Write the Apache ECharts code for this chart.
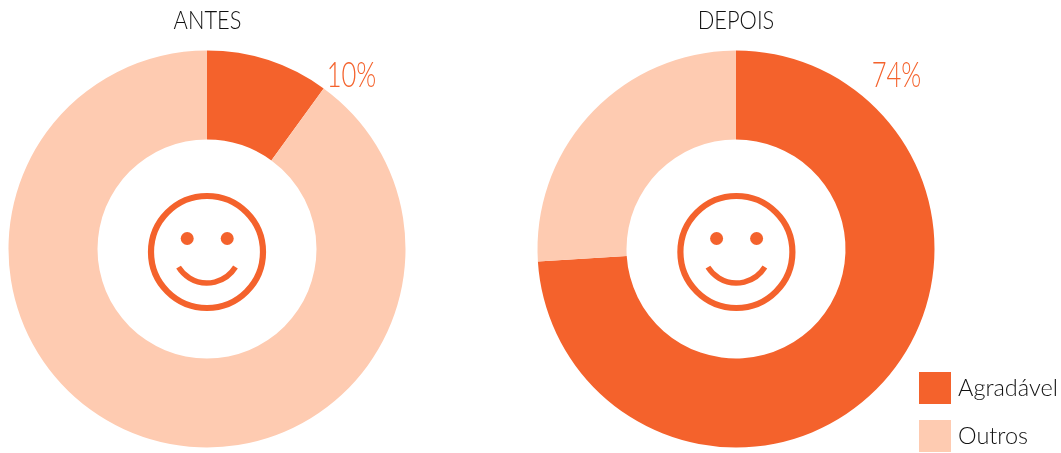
<!DOCTYPE html>
<html><head><meta charset="utf-8">
<style>html,body{margin:0;padding:0;background:#fff}#c{width:1061px;height:453px}</style>
<script src="https://cdn.jsdelivr.net/npm/echarts@6/dist/echarts.min.js"></script>
</head><body><div id="c"></div>
<script>
const categories = ['Agradável', 'Outros'];
const antesValues = [10, 90];
const depoisValues = [74, 26];
const panelTitles = ['ANTES', 'DEPOIS'];
const colors = ['#F4622C', '#FECBB1'];
const FONT = 'Lato';
const chart = echarts.init(document.getElementById('c'), null, {renderer:'canvas'});

function pie(values, cx){
  return {
    type:'pie', center:[cx,249], radius:[109.5,198.5], startAngle:90, clockwise:true,
    silent:true, animation:false, avoidLabelOverlap:false,
    emphasis:{disabled:true},
    color:colors,
    label:{show:false}, labelLine:{show:false},
    data: categories.map((n,i)=>({name:n, value:values[i]}))
  };
}
function condensedText(text, x, y, size, scale, color, weight){
  return {type:'text', silent:true, x:x, y:y, scaleX:scale,
    style:{text:text, x:0, y:0, align:'center', verticalAlign:'middle',
      font:`${weight} ${size}px ${FONT}`, fill:color}};
}
function smiley(cx){
  const st={stroke:colors[0], fill:'transparent'};
  return [
    {type:'circle', shape:{cx:cx,cy:252,r:56}, style:{...st,lineWidth:6.2}, silent:true},
    {type:'circle', shape:{cx:cx-19.8,cy:238.5,r:6.5}, style:{fill:colors[0]}, silent:true},
    {type:'circle', shape:{cx:cx+20.2,cy:238.5,r:6.5}, style:{fill:colors[0]}, silent:true},
    {type:'arc', silent:true, shape:{cx:cx,cy:249.6,r:33.4,startAngle:0.55,endAngle:2.59,clockwise:true},
     style:{...st,lineWidth:5.5,lineCap:'butt'}}
  ];
}
chart.setOption({
  animation:false,
  backgroundColor:'#fff',
  legend:{
    data:categories, orient:'vertical', left:919, top:372, padding:0,
    itemWidth:32, itemHeight:32, itemGap:16, icon:'rect', selectedMode:false,
    textStyle:{fontFamily:FONT,fontWeight:300,fontSize:23.5,color:'#111',padding:[0,0,0,2]}
  },
  series:[pie(antesValues,207), pie(depoisValues,736)],
  graphic:[
    ...smiley(207),...smiley(736.4),
    condensedText(panelTitles[0],207.5,21,26,0.84,'#111',300),
    condensedText(panelTitles[1],736,21,26,0.84,'#111',300),
    condensedText(antesValues[0]+'%',351.5,76,35,0.73,colors[0],300),
    condensedText(depoisValues[0]+'%',896.5,76,35,0.73,colors[0],300)
  ]
});
</script></body></html>
